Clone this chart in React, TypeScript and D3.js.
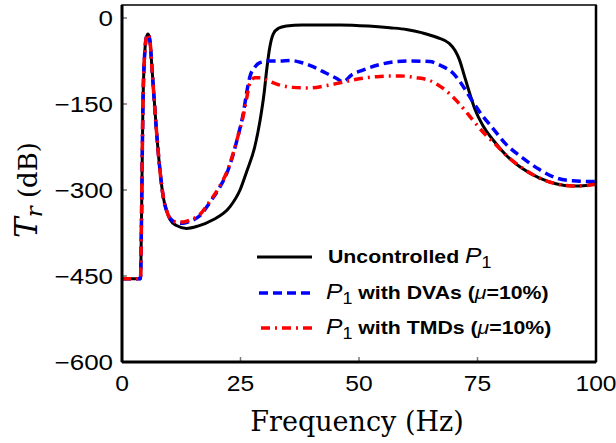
import React from "react";
import * as d3 from "d3";

const xTicks = [0, 25, 50, 75, 100];
const yTicks = [0, -150, -300, -450, -600];

const peak: [number, number][] = [
  [0, -455], [3.9, -455], [4.1, -360], [4.4, -160], [4.8, -60], [5.2, -32], [5.5, -28],
  [5.9, -40], [6.3, -85], [6.6, -120], [7.3, -200], [8.0, -265], [8.7, -312], [9.4, -336],
];

const uncontrolled: [number, number][] = [
  ...peak,
  [10.1, -351], [11.5, -362], [13.6, -367], [16, -363], [19.2, -352], [22.8, -329], [24.9, -300],
  [26.3, -268], [28, -225], [29.1, -180], [30, -130], [30.5, -92], [31.2, -50], [31.9, -28], [33, -18],
  [34.7, -14], [38, -12], [46, -12], [52, -14], [56.5, -17], [60, -20], [63.4, -26], [66.5, -34],
  [69, -44], [70.3, -57], [71.2, -73], [72.2, -100], [73.3, -130], [74.5, -160], [76.1, -187],
  [78.5, -215], [81, -239], [84, -260], [88, -279], [91.5, -289], [95, -293], [98, -292], [100, -288],
];

const withDVA: [number, number][] = [
  ...peak,
  [10.1, -349], [11.5, -357], [12.9, -358], [14.5, -354], [16.4, -345], [18.5, -322], [20.7, -294],
  [22.1, -271], [23.2, -245], [24.5, -205], [25.6, -166],
  [26.3, -130], [27, -102], [28, -86], [29.1, -78], [31, -75], [33.3, -75], [35.4, -74],
  [38, -78], [40.3, -85], [43, -96], [45.2, -105], [46.6, -111], [48.5, -99], [50.8, -91],
  [54, -82], [57.9, -76], [61, -75], [64.9, -76], [67.5, -84], [69.8, -96], [72.2, -122],
  [74, -146], [76, -170], [78.2, -192], [81, -220], [84.5, -244], [88, -264], [91.6, -279],
  [95, -284], [98.6, -285], [100, -285],
];

const withTMD: [number, number][] = [
  ...peak,
  [10.1, -349], [11.5, -356], [12.9, -356], [14.5, -352], [16.4, -343], [18.5, -320], [20.7, -292],
  [22.1, -269], [23.2, -243], [24.5, -205], [25.6, -170],
  [26.3, -140], [27, -113], [28, -104], [29.1, -104], [31, -110], [33.3, -117], [36, -121],
  [39.6, -122], [43, -118], [46, -113], [50, -106], [54.4, -102], [58.6, -101], [62, -104],
  [64.9, -109], [68.4, -127], [71, -148], [74, -178], [76.5, -202], [79, -222], [81, -239],
  [84.5, -262], [88, -279], [91.5, -289], [95, -293], [98, -292], [100, -290],
];

const legendLabels = ["Uncontrolled ", " with DVAs (", " with TMDs ("];

export default function App() {
  const left = 122, right = 596, top = 5, bottom = 362;
  const x = d3.scaleLinear().domain([0, 100]).range([left, right]);
  const y = d3.scaleLinear().domain([-600, 0]).range([bottom, 18]);
  const line = d3
    .line<[number, number]>()
    .x((d) => x(d[0]))
    .y((d) => y(d[1]))
    .curve(d3.curveMonotoneX);

  const sans = "'Liberation Sans', Arial, sans-serif";
  const serif = "'DejaVu Serif', serif";
  const blueDash = "9 5";
  const redDash = "9 5 2 5";

  const legendY = [257, 293, 328];

  return (
    <svg
      width={616}
      height={443}
      style={{ position: "absolute", left: 0, top: 0, background: "#fff" }}
    >
      <defs>
        <clipPath id="plotclip">
          <rect x={left} y={top} width={right - left} height={bottom - top} />
        </clipPath>
      </defs>
      <rect x={0} y={0} width={616} height={443} fill="#fff" />

      {/* ticks */}
      {yTicks.map((t) => (
        <g key={"y" + t}>
          <line x1={left} x2={left + 5} y1={y(t)} y2={y(t)} stroke="#777" strokeWidth={1.5} />
          <text
            transform={`translate(113,${y(t) + 8}) scale(1.18,1)`}
            textAnchor="end"
            fontFamily={sans}
            fontSize={22}
            fill="#000"
          >
            {t < 0 ? "\u2212" + Math.abs(t) : t}
          </text>
        </g>
      ))}
      {xTicks.map((t) => (
        <g key={"x" + t}>
          <line x1={x(t)} x2={x(t)} y1={bottom} y2={bottom - 5} stroke="#777" strokeWidth={1.5} />
          <text
            transform={`translate(${x(t)},391) scale(1.12,1)`}
            textAnchor="middle"
            fontFamily={sans}
            fontSize={22}
            fill="#000"
          >
            {t}
          </text>
        </g>
      ))}

      <g clipPath="url(#plotclip)" fill="none">
        <path d={line(uncontrolled) || ""} stroke="#000" strokeWidth={3} />
        <path d={line(withDVA) || ""} stroke="#0000ff" strokeWidth={3.5} strokeDasharray={blueDash} />
        <path d={line(withTMD) || ""} stroke="#ff0000" strokeWidth={3.5} strokeDasharray={redDash} />
      </g>

      {/* frame */}
      <rect x={left} y={top} width={right - left} height={bottom - top} fill="none" stroke="#000" strokeWidth={1.5} />
      <line x1={left} x2={left} y1={top} y2={bottom} stroke="#000" strokeWidth={3} />
      <line x1={left} x2={right} y1={bottom} y2={bottom} stroke="#000" strokeWidth={3} />
      <line x1={right} x2={right} y1={top} y2={bottom} stroke="#000" strokeWidth={2.5} />

      {/* legend */}
      <line x1={257} x2={312} y1={legendY[0]} y2={legendY[0]} stroke="#000" strokeWidth={3} />
      <line x1={259} x2={312} y1={legendY[1]} y2={legendY[1]} stroke="#0000ff" strokeWidth={3.5} strokeDasharray={blueDash} />
      <line x1={261} x2={312} y1={legendY[2]} y2={legendY[2]} stroke="#ff0000" strokeWidth={3.5} strokeDasharray={redDash} />

      <text
        transform={`translate(328,${legendY[0] + 6}) scale(1.12,1)`}
        fontFamily={sans}
        fontSize={19}
        fontWeight="bold"
        fill="#000"
      >
        {legendLabels[0]}
        <tspan fontStyle="italic" fontWeight="normal" fontSize={22}>P</tspan>
        <tspan fontWeight="normal" dy={5} fontSize={16}>1</tspan>
      </text>
      {[1, 2].map((i) => (
        <text
          key={i}
          transform={`translate(326,${legendY[i] + 6}) scale(1.12,1)`}
          fontFamily={sans}
          fontSize={19}
          fontWeight="bold"
          fill="#000"
        >
          <tspan fontStyle="italic" fontWeight="normal" fontSize={22}>P</tspan>
          <tspan fontWeight="normal" dy={5} fontSize={16}>1</tspan>
          <tspan dy={-5}>{legendLabels[i]}</tspan>
          <tspan fontStyle="italic" fontWeight="normal">μ</tspan>
          <tspan>=10%)</tspan>
        </text>
      ))}

      {/* axis labels */}
      <text x={357} y={431} textAnchor="middle" fontFamily={serif} fontSize={27} fill="#000">
        Frequency (Hz)
      </text>
      <text
        transform="translate(37,190) rotate(-90)"
        textAnchor="middle"
        fontFamily={serif}
        fontSize={26}
        fill="#000"
      >
        <tspan fontStyle="italic" fontSize={31}>T</tspan>
        <tspan fontStyle="italic" fontSize={23} dy={5}>r</tspan>
        <tspan dy={-5}> (dB)</tspan>
      </text>
    </svg>
  );
}
